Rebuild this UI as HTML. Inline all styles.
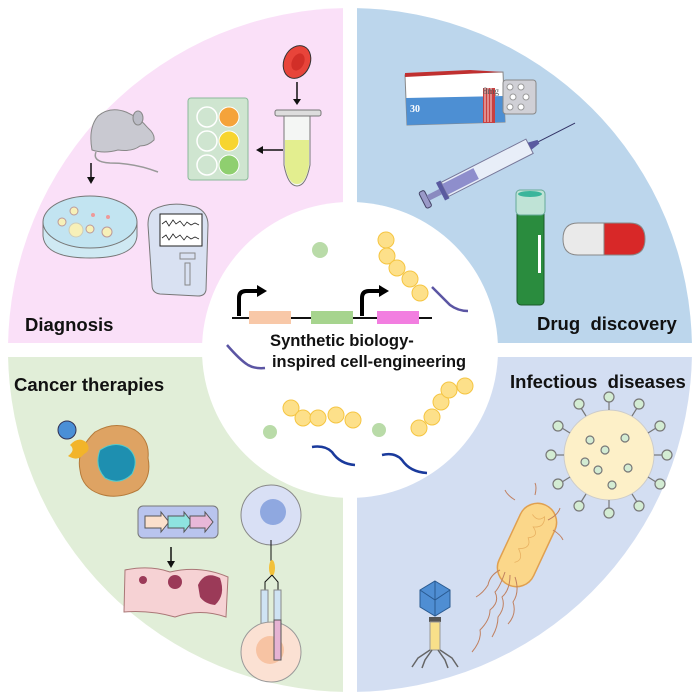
<!DOCTYPE html>
<html><head><meta charset="utf-8"><style>
html,body{margin:0;padding:0;background:#fff;width:700px;height:700px;overflow:hidden}
svg{display:block}
text{font-family:"Liberation Sans",Arial,sans-serif;font-weight:bold;fill:#111}
</style></head><body>
<svg width="700" height="700" viewBox="0 0 700 700" xmlns="http://www.w3.org/2000/svg">
<defs>
<clipPath id="tl"><rect x="0" y="0" width="343" height="343"/></clipPath>
<clipPath id="tr"><rect x="357" y="0" width="343" height="343"/></clipPath>
<clipPath id="bl"><rect x="0" y="357" width="343" height="343"/></clipPath>
<clipPath id="br"><rect x="357" y="357" width="343" height="343"/></clipPath>
</defs>
<circle cx="350" cy="350" r="342" fill="#fae0f8" clip-path="url(#tl)"/>
<circle cx="350" cy="350" r="342" fill="#bcd6ec" clip-path="url(#tr)"/>
<circle cx="350" cy="350" r="342" fill="#e1eed8" clip-path="url(#bl)"/>
<circle cx="350" cy="350" r="342" fill="#d3def2" clip-path="url(#br)"/>
<circle cx="350" cy="350" r="148" fill="#fff"/>

<!-- Diagnosis -->
<ellipse cx="297" cy="62" rx="13" ry="17" transform="rotate(25 297 62)" fill="#e8443a" stroke="#333" stroke-width="1"/>
<ellipse cx="298" cy="62" rx="6" ry="9" transform="rotate(25 298 62)" fill="#d22f28"/>
<line x1="297" y1="82" x2="297" y2="100" stroke="#111" stroke-width="1.5"/><path d="M293,99 L297,105 L301,99Z" fill="#111"/>
<rect x="275" y="110" width="46" height="6" rx="2" fill="#ddd" stroke="#777"/>
<path d="M284,116 L310,116 L310,165 Q306,186 297,186 Q288,186 284,165Z" fill="#f4f6f4" stroke="#777"/>
<path d="M285,140 L309,140 L309,165 Q306,184 297,184 Q288,184 285,165Z" fill="#e3ee8f"/>
<line x1="283" y1="150" x2="262" y2="150" stroke="#111" stroke-width="1.5"/><path d="M263,146 L256,150 L263,154Z" fill="#111"/>
<rect x="188" y="98" width="60" height="82" rx="3" fill="#cfe5d0" stroke="#8bb99a"/>
<circle cx="207" cy="117" r="10" fill="none" stroke="#fff" stroke-width="1.5"/>
<circle cx="207" cy="141" r="10" fill="none" stroke="#fff" stroke-width="1.5"/>
<circle cx="207" cy="165" r="10" fill="none" stroke="#fff" stroke-width="1.5"/>
<circle cx="229" cy="117" r="10" fill="#f5a33a" stroke="#fff"/>
<circle cx="229" cy="141" r="10" fill="#f7d530" stroke="#fff"/>
<circle cx="229" cy="165" r="10" fill="#8fcf6f" stroke="#fff"/>
<!-- mouse -->
<path d="M92,150 Q88,128 98,116 Q110,106 126,112 Q140,118 148,128 Q155,134 154,140 Q148,146 140,146 Q132,152 118,150 Q104,154 92,150Z" fill="#c9c9d1" stroke="#888"/>
<ellipse cx="138" cy="118" rx="5" ry="7" fill="#bbbcc6" stroke="#888"/>
<path d="M96,152 Q92,162 110,163 Q135,163 158,172" fill="none" stroke="#999" stroke-width="1.5"/>
<line x1="91" y1="163" x2="91" y2="178" stroke="#111" stroke-width="1.5"/><path d="M87,177 L91,184 L95,177Z" fill="#111"/>
<!-- petri -->
<path d="M43,222 L43,236 Q45,258 90,258 Q135,258 137,236 L137,222Z" fill="#cfe9f3" stroke="#777"/>
<ellipse cx="90" cy="222" rx="47" ry="26" fill="#c2e4f1" stroke="#777"/>
<circle cx="74" cy="211" r="4" fill="#f7f0b8" stroke="#b99"/>
<circle cx="62" cy="222" r="4" fill="#f7f0b8" stroke="#b99"/>
<circle cx="76" cy="230" r="7" fill="#f7f0b8" stroke="#ccb"/>
<circle cx="90" cy="229" r="4" fill="#f7f0b8" stroke="#b99"/>
<circle cx="107" cy="232" r="5" fill="#f7f0b8" stroke="#b99"/>
<circle cx="93" cy="215" r="2" fill="#e99"/>
<circle cx="108" cy="217" r="2" fill="#e99"/>
<!-- device -->
<path d="M153,210 Q170,200 196,207 Q208,212 208,225 L206,290 Q205,296 198,296 L160,294 Q152,293 152,285 L148,225 Q148,214 153,210Z" fill="#d9e1f2" stroke="#777"/>
<rect x="160" y="214" width="42" height="32" fill="#fff" stroke="#222"/>
<path d="M162,224 l4,-3 3,5 4,-6 3,4 4,-3 4,5 3,-4 4,3 4,-2 4,2 M162,238 l4,-3 3,5 4,-6 3,4 4,-3 4,5 3,-4 4,3 4,-2 4,2" fill="none" stroke="#222" stroke-width="0.8"/>
<rect x="180" y="253" width="15" height="6" fill="none" stroke="#888"/>
<rect x="185" y="263" width="5" height="22" fill="none" stroke="#888"/>
<text x="25" y="331" font-size="18.5">Diagnosis</text>

<!-- Drug discovery -->
<path d="M405,75 L503,72 L505,122 L407,125Z" fill="#fff" stroke="#888"/>
<path d="M405,73 L470,70 L503,72 L405,77Z" fill="#c03030"/>
<path d="M406,98 L504,96 L505,122 L407,125Z" fill="#4d8fd3"/>
<rect x="483" y="88" width="12" height="35" fill="#c94040"/>
<path d="M485,88 v34 M488,88 v34 M491,88 v34" stroke="#fff" stroke-width="0.8"/>
<text x="410" y="112" font-size="10" style="fill:#fff;font-family:'Liberation Serif'">30</text>
<text x="483" y="94" font-size="9" style="fill:#555;font-family:'Liberation Serif';font-weight:normal">8mg</text>
<rect x="503" y="80" width="33" height="34" rx="3" fill="#d0d0d6" stroke="#888"/>
<g fill="#fff" stroke="#999"><circle cx="510" cy="87" r="3"/><circle cx="521" cy="87" r="3"/><circle cx="513" cy="97" r="3"/><circle cx="526" cy="97" r="3"/><circle cx="510" cy="107" r="3"/><circle cx="521" cy="107" r="3"/></g>
<g transform="translate(428,198) rotate(-27)">
<rect x="-6" y="-9" width="6" height="18" rx="2" fill="#9a9ac8" stroke="#446"/>
<rect x="0" y="-3" width="14" height="6" fill="#8a8ac0"/>
<rect x="14" y="-10" width="5" height="20" fill="#5a5aa0"/>
<rect x="19" y="-8" width="95" height="16" fill="#e8eef8" stroke="#779" />
<rect x="19" y="-6" width="35" height="12" fill="#8e8ecc"/>
<path d="M114,-4 L124,-2 L124,2 L114,4Z" fill="#5a5aa0"/>
<line x1="124" y1="0" x2="165" y2="0" stroke="#336" stroke-width="1"/>
</g>
<rect x="517" y="190" width="27" height="115" rx="4" fill="#2a8c3e" stroke="#1a5a28"/>
<rect x="516" y="190" width="29" height="25" rx="4" fill="#bfe3d6" stroke="#6a9"/>
<ellipse cx="530" cy="194" rx="12" ry="3" fill="#3bb59b"/>
<rect x="538" y="235" width="3" height="38" fill="#fff"/>
<path d="M578,223 L604,223 L604,255 L578,255 Q563,255 563,239 Q563,223 578,223Z" fill="#eaeaea" stroke="#888"/>
<path d="M604,223 L630,223 Q645,223 645,239 Q645,255 630,255 L604,255Z" fill="#d82828" stroke="#888"/>
<text x="537" y="330" font-size="18.5" xml:space="preserve">Drug  discovery</text>

<!-- Cancer therapies -->
<text x="14" y="391" font-size="18.5">Cancer therapies</text>
<path d="M95,432 Q115,420 135,430 Q150,440 148,458 Q152,478 138,490 Q118,500 100,494 Q82,488 80,470 Q76,450 95,432Z" fill="#dea363" stroke="#b57a3a"/>
<path d="M100,450 Q115,440 128,448 Q140,458 132,474 Q120,486 105,478 Q94,466 100,450Z" fill="#1e8fb0" stroke="#5cc"/>
<circle cx="67" cy="430" r="9" fill="#4a8fd6" stroke="#335"/>
<path d="M70,445 Q78,436 86,442 Q92,450 84,454 Q78,462 68,456 Q76,450 70,445Z" fill="#f2b42a"/>
<rect x="138" y="506" width="80" height="32" rx="5" fill="#b9c4ee" stroke="#777"/>
<path d="M145,516 h16 v-4 l8,10 -8,10 v-4 h-16Z" fill="#fbe0cc" stroke="#555"/>
<path d="M168,516 h16 v-4 l8,10 -8,10 v-4 h-16Z" fill="#8ee3e0" stroke="#555"/>
<path d="M190,516 h15 v-4 l8,10 -8,10 v-4 h-15Z" fill="#e8b8d8" stroke="#555"/>
<line x1="171" y1="547" x2="171" y2="562" stroke="#111" stroke-width="1.5"/><path d="M167,561 L171,568 L175,561Z" fill="#111"/>
<path d="M125,570 Q150,565 170,572 Q200,565 228,577 L226,617 Q200,608 175,617 Q150,610 124,612Z" fill="#f6d2d4" stroke="#a77"/>
<circle cx="143" cy="580" r="4" fill="#9b3a58"/>
<circle cx="175" cy="582" r="7" fill="#9b3a58"/>
<path d="M198,585 Q205,570 220,578 Q226,595 215,605 Q205,604 200,597Z" fill="#9b3a58"/>
<circle cx="271" cy="515" r="30" fill="#d9e0f5" stroke="#888"/>
<circle cx="273" cy="512" r="13" fill="#8fa8e0"/>
<line x1="271" y1="540" x2="271" y2="562" stroke="#111"/>
<ellipse cx="272" cy="568" rx="3" ry="8" fill="#f2c13a"/>
<path d="M272,575 L265,582 L265,590 M272,575 L278,582 L278,590" fill="none" stroke="#111"/>
<rect x="261" y="590" width="7" height="50" fill="#cfe3f3" stroke="#888"/>
<rect x="274" y="590" width="7" height="50" fill="#cfe3f3" stroke="#888"/>
<circle cx="271" cy="652" r="30" fill="#fbe1d3" stroke="#999"/>
<circle cx="270" cy="650" r="14" fill="#f7c3a3"/>
<rect x="274" y="620" width="7" height="40" fill="#e6b3d3" stroke="#555"/>

<!-- Infectious diseases -->
<text x="510" y="388" font-size="18.5" xml:space="preserve">Infectious  diseases</text>
<circle cx="609" cy="455" r="45" fill="#fdf0c8" stroke="#ccc"/>
<g stroke="#777" stroke-width="1.2" fill="#d3ecd3">
<line x1="654" y1="455" x2="663" y2="455"/><circle cx="667" cy="455" r="5"/>
<line x1="648" y1="477" x2="656" y2="482"/><circle cx="660" cy="484" r="5"/>
<line x1="632" y1="494" x2="637" y2="502"/><circle cx="639" cy="506" r="5"/>
<line x1="609" y1="500" x2="609" y2="509"/><circle cx="609" cy="513" r="5"/>
<line x1="586" y1="494" x2="581" y2="502"/><circle cx="579" cy="506" r="5"/>
<line x1="570" y1="477" x2="562" y2="482"/><circle cx="558" cy="484" r="5"/>
<line x1="564" y1="455" x2="555" y2="455"/><circle cx="551" cy="455" r="5"/>
<line x1="570" y1="433" x2="562" y2="428"/><circle cx="558" cy="426" r="5"/>
<line x1="586" y1="416" x2="581" y2="408"/><circle cx="579" cy="404" r="5"/>
<line x1="609" y1="410" x2="609" y2="401"/><circle cx="609" cy="397" r="5"/>
<line x1="632" y1="416" x2="637" y2="408"/><circle cx="639" cy="404" r="5"/>
<line x1="648" y1="433" x2="656" y2="428"/><circle cx="660" cy="426" r="5"/>
<circle cx="605" cy="450" r="4"/><circle cx="590" cy="440" r="4"/><circle cx="625" cy="438" r="4"/><circle cx="598" cy="470" r="4"/><circle cx="628" cy="468" r="4"/><circle cx="612" cy="485" r="4"/><circle cx="585" cy="462" r="4"/>
</g>
<g transform="translate(527,545) rotate(25)">
<rect x="-19" y="-44" width="38" height="88" rx="19" fill="#fbd78a" stroke="#e0a050" stroke-width="1.5"/>
<path d="M-8,-30 q8,5 12,-3 q5,10 -6,14 q10,6 0,12 q8,8 -4,14 q10,8 2,14" fill="none" stroke="#e8b060" stroke-width="0.8"/>
</g>
<g fill="none" stroke="#c08060" stroke-width="1">
<path d="M505,572 q-5,15 -10,20 q5,10 -5,18 q0,10 -10,20 q2,10 -8,22"/>
<path d="M510,575 q0,15 -8,22 q4,10 -4,20 q0,10 -6,20"/>
<path d="M515,577 q5,15 -2,25 q4,12 -5,22"/>
<path d="M500,570 q-10,5 -12,15 q-5,8 -12,12"/>
<path d="M548,520 q10,-5 12,-12"/><path d="M553,530 q8,5 10,10"/><path d="M515,500 q-8,-5 -10,-10"/><path d="M535,495 q2,-8 0,-12"/>
</g>
<path d="M435,581 L450,590 L450,607 L435,616 L420,607 L420,590Z" fill="#4f8ed3" stroke="#2a5a90"/>
<path d="M420,590 L435,600 L450,590 M435,600 L435,616 M435,581 L435,600" fill="none" stroke="#2a5a90"/>
<rect x="429" y="617" width="12" height="5" fill="#555"/>
<rect x="430" y="622" width="10" height="28" fill="#f8e08a" stroke="#999"/>
<g fill="none" stroke="#666" stroke-width="1.5">
<path d="M430,650 L418,658 L412,667"/><path d="M432,650 L425,660 L422,668"/><path d="M440,650 L452,658 L458,667"/><path d="M438,650 L445,660 L448,668"/>
</g>

<!-- Center -->
<line x1="232" y1="318" x2="432" y2="318" stroke="#111" stroke-width="2"/>
<rect x="249" y="311" width="42" height="13" fill="#f8c8a8"/>
<rect x="311" y="311" width="42" height="13" fill="#a6d48e"/>
<rect x="377" y="311" width="42" height="13" fill="#f27ee0"/>
<path d="M239,316 L239,298 Q239,291 246,291 L258,291" fill="none" stroke="#000" stroke-width="4"/>
<path d="M257,285 L267,291 L257,297Z" fill="#000"/>
<path d="M362,316 L362,298 Q362,291 369,291 L380,291" fill="none" stroke="#000" stroke-width="4"/>
<path d="M379,285 L389,291 L379,297Z" fill="#000"/>
<text x="270" y="346" font-size="16.6">Synthetic biology-</text>
<text x="272" y="367" font-size="16.4">inspired cell-engineering</text>
<g fill="#fde08a" stroke="#f5c542" stroke-width="1">
<circle cx="386" cy="240" r="8"/><circle cx="387" cy="256" r="8"/><circle cx="397" cy="268" r="8"/><circle cx="410" cy="279" r="8"/><circle cx="420" cy="293" r="8"/>
<circle cx="291" cy="408" r="8"/><circle cx="303" cy="418" r="8"/><circle cx="318" cy="418" r="8"/><circle cx="336" cy="415" r="8"/><circle cx="353" cy="420" r="8"/>
<circle cx="419" cy="428" r="8"/><circle cx="432" cy="417" r="8"/><circle cx="441" cy="402" r="8"/><circle cx="449" cy="390" r="8"/><circle cx="465" cy="386" r="8"/>
</g>
<g fill="#b9dba8"><circle cx="320" cy="250" r="8"/><circle cx="270" cy="432" r="7"/><circle cx="379" cy="430" r="7"/></g>
<path d="M432,287 Q445,300 450,305 Q458,311 468,311" fill="none" stroke="#5b55a3" stroke-width="2.5"/>
<path d="M227,345 Q240,360 248,365 Q255,369 265,368" fill="none" stroke="#5b55a3" stroke-width="2.5"/>
<path d="M312,447 Q325,445 332,452 Q340,464 355,465" fill="none" stroke="#1a3a9c" stroke-width="2.5"/>
<path d="M382,455 Q395,452 402,460 Q410,472 427,473" fill="none" stroke="#1a3a9c" stroke-width="2.5"/>
</svg>
</body></html>
